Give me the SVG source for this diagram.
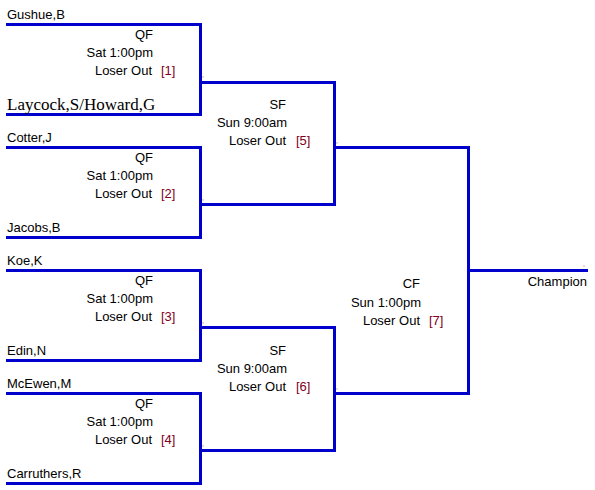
<svg xmlns="http://www.w3.org/2000/svg" width="595" height="490" viewBox="0 0 595 490">
<style>
.ln{fill:none;stroke:#0000CC;stroke-width:3;stroke-linejoin:miter;stroke-linecap:square}
text{font-family:"Liberation Sans",Arial,sans-serif;font-size:13px;fill:#000}
.r{text-anchor:end}
.g{fill:#800020}
.c{font-size:7px;fill:#A0522D}
.serif{font-family:"Liberation Serif","Times New Roman",serif;font-size:17px}
</style>
<rect width="595" height="490" fill="#fff"/>
<g id="connectors">
<path class="ln" d="M201.5,82.5H334.5V204.5H201.5"/>
<path class="ln" d="M201.5,327.5H334.5V450.5H201.5"/>
<path class="ln" d="M334.5,147.5H468.5V393.5H334.5"/>
<path class="ln" d="M468.5,270.5H586.5"/>
<text class="c" x="202" y="77">,</text>
<text class="c" x="202" y="200">,</text>
<text class="c" x="202" y="323">,</text>
<text class="c" x="202" y="446">,</text>
<text class="c" x="336" y="143">,</text>
<text class="c" x="336" y="389">,</text>
<text class="c" x="583" y="266">,</text>
</g>
<g id="qf1">
<path class="ln" d="M7.5,24.5H200.5V114.5H7.5"/>
<text x="7" y="19">Gushue,B</text>
<text class="serif" x="7" y="110">Laycock,S/Howard,G</text>
<text class="r" x="153" y="39">QF</text>
<text class="r" x="153" y="57">Sat 1:00pm</text>
<text class="r" x="152" y="75">Loser Out</text>
<text class="g" x="161" y="75">[1]</text>
</g>
<g id="qf2">
<path class="ln" d="M7.5,147.5H200.5V237.5H7.5"/>
<text x="7" y="142">Cotter,J</text>
<text x="7" y="232">Jacobs,B</text>
<text class="r" x="153" y="162">QF</text>
<text class="r" x="153" y="180">Sat 1:00pm</text>
<text class="r" x="152" y="198">Loser Out</text>
<text class="g" x="161" y="198">[2]</text>
</g>
<g id="qf3">
<path class="ln" d="M7.5,270.5H200.5V360.5H7.5"/>
<text x="7" y="265">Koe,K</text>
<text x="7" y="355">Edin,N</text>
<text class="r" x="153" y="285">QF</text>
<text class="r" x="153" y="303">Sat 1:00pm</text>
<text class="r" x="152" y="321">Loser Out</text>
<text class="g" x="161" y="321">[3]</text>
</g>
<g id="qf4">
<path class="ln" d="M7.5,393.5H200.5V483.5H7.5"/>
<text x="7" y="388">McEwen,M</text>
<text x="7" y="478">Carruthers,R</text>
<text class="r" x="153" y="408">QF</text>
<text class="r" x="153" y="426">Sat 1:00pm</text>
<text class="r" x="152" y="444">Loser Out</text>
<text class="g" x="161" y="444">[4]</text>
</g>
<g id="sf5">
<text class="r" x="286" y="109">SF</text>
<text class="r" x="287" y="127">Sun 9:00am</text>
<text class="r" x="286" y="145">Loser Out</text>
<text class="g" x="296" y="145">[5]</text>
</g>
<g id="sf6">
<text class="r" x="286" y="355">SF</text>
<text class="r" x="287" y="373">Sun 9:00am</text>
<text class="r" x="286" y="391">Loser Out</text>
<text class="g" x="296" y="391">[6]</text>
</g>
<g id="cf7">
<text class="r" x="420" y="288">CF</text>
<text class="r" x="421" y="307">Sun 1:00pm</text>
<text class="r" x="420" y="325">Loser Out</text>
<text class="g" x="429" y="325">[7]</text>
</g>
<g id="champion">
<text class="r" x="587" y="286">Champion</text>
</g>
</svg>
